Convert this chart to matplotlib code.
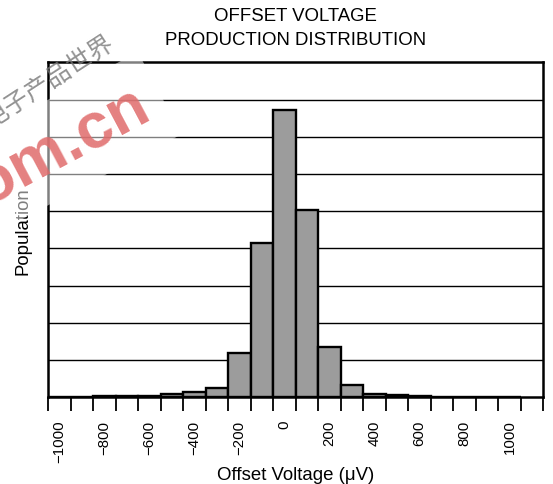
import numpy as np
import matplotlib
matplotlib.use('Agg')
import matplotlib.pyplot as plt

plt.rcParams['font.family'] = ['Liberation Sans', 'DejaVu Sans']

########### data ###########
bin_centers = np.arange(-1000, 1001, 100)
population = [0.0, 0.02, 0.03, 0.03, 0.04, 0.08, 0.13, 0.24, 1.18, 4.14, 7.71,
              5.03, 1.34, 0.33, 0.09, 0.06, 0.04, 0.0, 0.0, 0.0, 0.0]
tick_labels = [-1000, -800, -600, -400, -200, 0, 200, 400, 600, 800, 1000]

########### figure ###########
fig = plt.figure(figsize=(5.53, 4.85), dpi=100)
ax = fig.add_axes([0.0868, 0.1788, 0.8957, 0.6907])

ax.bar(bin_centers, population, width=100, color='#9c9c9c',
       edgecolor='black', linewidth=1.7, zorder=3)

ax.set_xlim(-1050, 1150)
ax.set_ylim(0, 9)
ax.set_yticks(np.arange(1, 9))
ax.yaxis.grid(True, color='black', linewidth=1.0, zorder=1)
ax.tick_params(axis='y', left=False, labelleft=False)

# ticks on bin edges, labels on bin centres
ax.set_xticks(np.arange(-1050, 1151, 100))
ax.set_xticklabels([])
ax.tick_params(axis='x', which='major', direction='out', length=10, width=1.3)
ax.set_xticks(tick_labels, minor=True)
ax.set_xticklabels([str(v).replace('-', '\u2212') for v in tick_labels], minor=True,
                   rotation=90, fontsize=10.8)
ax.tick_params(axis='x', which='minor', length=0, pad=16)

for s in ax.spines.values():
    s.set_linewidth(1.8)

ax.set_xlabel('Offset Voltage (\u03bcV)', fontsize=13.4)
ax.xaxis.set_label_coords(0.5, -0.204)
ax.set_ylabel('Population', fontsize=13.4)
ax.yaxis.set_label_coords(-0.034, 0.5)
fig.text(0.535, 0.9412, 'OFFSET VOLTAGE\nPRODUCTION DISTRIBUTION', ha='center',
         va='center', fontsize=13.4, linespacing=1.48)

########### watermark ###########
fig.text(153/553, 1 - 117/485, 'eepw.com.cn', color='#e06a6a', fontsize=46,
         fontweight='bold', rotation=28, rotation_mode='anchor', ha='right',
         va='baseline', alpha=0.85, zorder=10,
         bbox=dict(facecolor='white', edgecolor='none', alpha=0.5, pad=12))
fig.text(112/553, 1 - 40/485, '电子产品世界', color='#777777', fontsize=18,
         family=['Noto Sans CJK SC', 'DejaVu Sans'], rotation=33,
         rotation_mode='anchor', ha='right', va='center', alpha=0.8, zorder=10)

plt.savefig('out.png', dpi=100)
